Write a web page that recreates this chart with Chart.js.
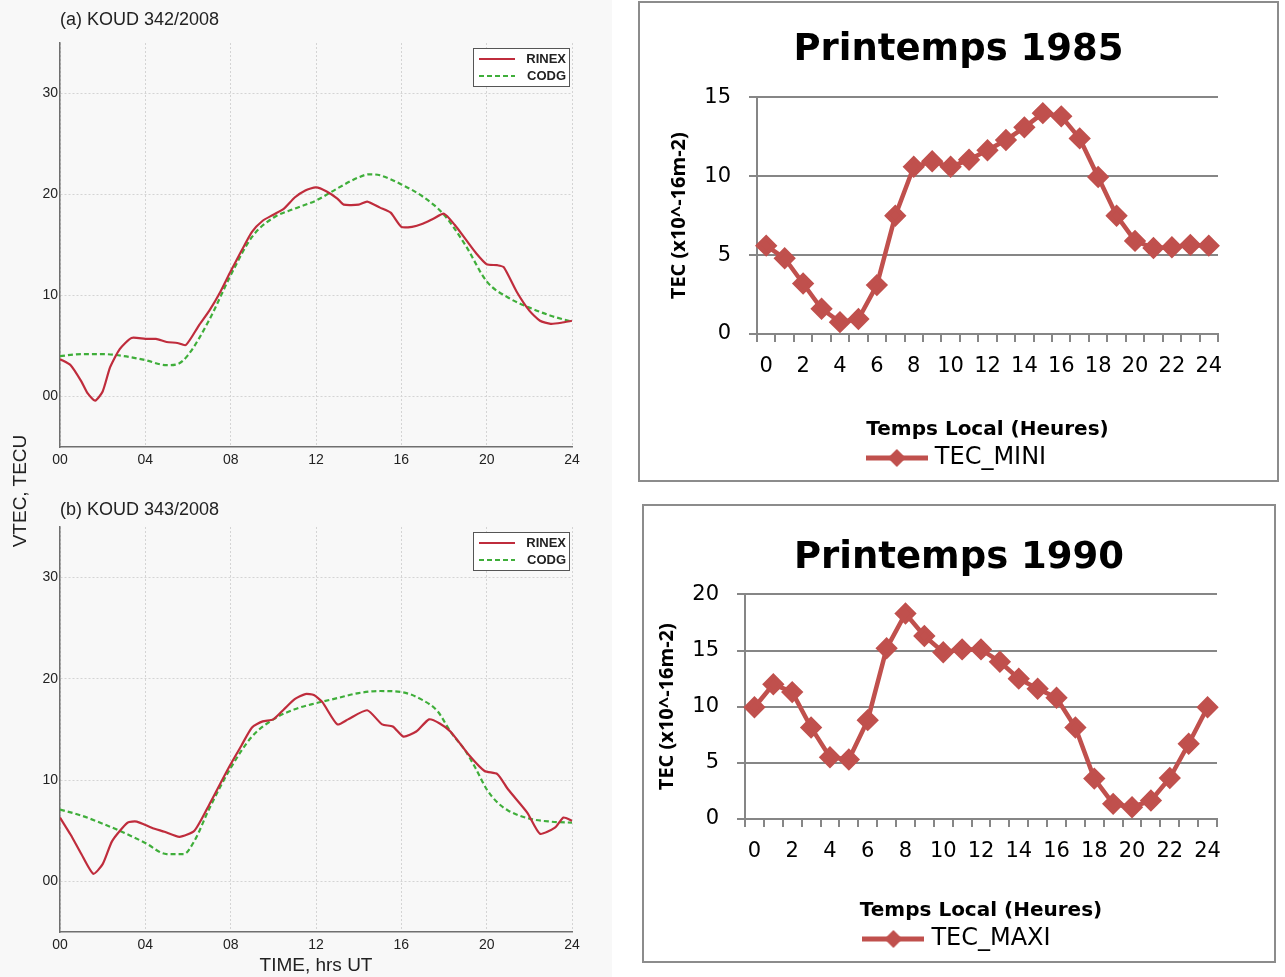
<!DOCTYPE html>
<html>
<head>
<meta charset="utf-8">
<script src="https://cdn.jsdelivr.net/npm/chart.js@4.4.0/dist/chart.umd.min.js"></script>
<style>
body{margin:0;background:#fff;width:1285px;height:977px;position:relative;overflow:hidden;font-family:"Liberation Sans",Arial,sans-serif}
.leftbg{position:absolute;left:0;top:0;width:612px;height:977px;background:#f8f8f8}
canvas{position:absolute}
.ptitle{position:absolute;font-size:18px;color:#222;white-space:nowrap}
.vlabel{position:absolute;left:-40px;top:480px;width:120px;text-align:center;font-size:19px;color:#222;transform:rotate(-90deg);white-space:nowrap}
.box{position:absolute;border:2px solid #8c8c8c;background:#fff}
.box canvas{left:0;top:0}
</style>
</head>
<body>
<div class="leftbg"></div>
<canvas id="panelA" width="600" height="470" style="left:0;top:0"></canvas>
<canvas id="panelB" width="600" height="493" style="left:0;top:484px"></canvas>
<div class="ptitle" style="left:60px;top:9px">(a) KOUD 342/2008</div>
<div class="ptitle" style="left:60px;top:499px">(b) KOUD 343/2008</div>
<div class="vlabel">VTEC, TECU</div>

<div class="box" style="left:638px;top:1px;width:637px;height:477px"><canvas id="spring85" width="637" height="477"></canvas></div>
<div class="box" style="left:642px;top:504px;width:630px;height:455px"><canvas id="spring90" width="630" height="455"></canvas></div>

<script>
// left panels, KOUD 342/2008
var hoursRinexA = [0,0.5,1,1.3,1.65,2,2.35,2.8,3.35,4,4.5,5,5.5,5.9,6.5,7,7.5,8,8.5,9,9.5,10,10.5,11,11.5,12,12.5,13,13.3,14,14.4,15,15.5,16,16.5,17,17.5,18,18.5,19,19.5,20,20.5,20.8,21.4,22,22.5,23,23.5,24]
var rinexA = [3.7,3.1,1.5,0.3,-0.4,0.5,2.9,4.7,5.8,5.7,5.7,5.4,5.3,5.1,7.0,8.5,10.3,12.4,14.4,16.3,17.4,18.0,18.6,19.7,20.4,20.7,20.3,19.6,19.0,19.0,19.3,18.7,18.2,16.8,16.8,17.1,17.6,18.1,17.0,15.6,14.2,13.1,13.0,12.8,10.4,8.5,7.5,7.2,7.3,7.5]
var hoursCodgA = [0,1,2,3,4,5,5.5,6,7,8,9,10,11,12,13,14,14.5,15,16,17,18,19,20,21,22,23,24]
var codgA = [4.0,4.2,4.2,4.0,3.6,3.1,3.2,4.1,7.6,12.0,15.8,17.7,18.6,19.4,20.6,21.7,22.0,21.9,21.0,19.8,18.0,15.0,11.4,9.8,8.8,8.0,7.4]

// KOUD 343/2008
var hoursRinexB = [0,0.5,1,1.56,2,2.45,3.17,3.6,4.3,4.9,5.6,6.3,7,7.9,8.5,9,9.5,10,10.5,11,11.5,11.9,12.3,13,13.5,14.4,15.1,15.6,16.1,16.7,17.3,17.8,18.3,19.2,19.9,20.5,21,21.9,22.5,23.2,23.6,24]
var rinexB = [6.3,4.6,2.7,0.75,1.7,4.0,5.8,5.9,5.3,4.9,4.4,5.0,7.6,11.2,13.4,15.2,15.8,16.0,17.0,18.0,18.5,18.4,17.7,15.5,16.0,16.9,15.5,15.3,14.3,14.8,16.0,15.6,14.8,12.4,10.9,10.6,9.1,6.8,4.7,5.3,6.3,6.0]
var hoursCodgB = [0,1,2,3,4,5,5.8,6.3,7,8,9,10,11,12,13,14,15,16,17,17.7,18.3,19,19.5,20,20.5,21,22,23,24]
var codgB = [7.1,6.5,5.7,4.8,3.8,2.7,2.7,4.0,7.2,11.2,14.3,16.0,17.0,17.6,18.1,18.6,18.8,18.7,17.9,16.8,14.8,12.9,11.1,9.1,7.8,7.0,6.2,5.9,5.8]

var leftXTicks = [0,4,8,12,16,20,24]
var leftYTicks = [0,10,20,30]

// right panels
var heures = ['0','1','2','3','4','5','6','7','8','9','10','11','12','13','14','15','16','17','18','19','20','21','22','23','24']
var tecMini = [5.6,4.8,3.2,1.6,0.75,0.95,3.1,7.5,10.6,10.95,10.6,11.05,11.65,12.3,13.1,14.0,13.8,12.4,9.95,7.5,5.9,5.45,5.5,5.65,5.6]
var tecMaxi = [9.95,12.0,11.3,8.15,5.5,5.3,8.8,15.2,18.3,16.3,14.85,15.1,15.1,14.0,12.5,11.6,10.8,8.15,3.6,1.35,1.05,1.65,3.65,6.7,9.95]

var RED = '#bf2c3c'
var GREEN = '#3fae3a'
var EXCEL_RED = '#c0504d'
var EXCEL_GREY = '#868686'

function pad2(v){ return (v < 10 ? '0' : '') + v }

function pts(xs, ys){
    return xs.map(function(x, i){ return {x: x, y: ys[i]} })
}

//legend drawn inside the plot, top right
var insideLegend = {
    id: 'insideLegend',
    afterDatasetsDraw: function(chart){
        var ctx = chart.ctx, a = chart.chartArea
        var x = a.right - 99, y = a.top + 5, w = 96, h = 38
        ctx.save()
        ctx.fillStyle = '#fff'
        ctx.fillRect(x, y, w, h)
        ctx.strokeStyle = '#555'
        ctx.lineWidth = 1
        ctx.strokeRect(x + 0.5, y + 0.5, w, h)
        chart.data.datasets.forEach(function(ds, i){
            var ly = y + 11 + i * 17
            ctx.strokeStyle = ds.borderColor
            ctx.lineWidth = 2
            ctx.setLineDash(ds.borderDash || [])
            ctx.beginPath()
            ctx.moveTo(x + 6, ly)
            ctx.lineTo(x + 42, ly)
            ctx.stroke()
            ctx.setLineDash([])
            ctx.fillStyle = '#222'
            ctx.font = 'bold 13px "Liberation Sans"'
            ctx.textBaseline = 'middle'
            ctx.textAlign = 'right'
            ctx.fillText(ds.label, x + w - 3, ly)
        })
        ctx.restore()
    }
}

function drawPanel(id, hr1, v1, hr2, v2, xTitle, xHeight){
    var tickFont = {family: '"Liberation Sans"', size: 14}
    new Chart(document.getElementById(id), {
        type: 'line',
        data: {
            datasets: [
                {label: 'RINEX', data: pts(hr1, v1), borderColor: RED, borderWidth: 2.2, pointRadius: 0, tension: 0.2},
                {label: 'CODG', data: pts(hr2, v2), borderColor: GREEN, borderWidth: 2.2, borderDash: [5, 3], pointRadius: 0, cubicInterpolationMode: 'monotone'}
            ]
        },
        options: {
            responsive: false,
            animation: false,
            layout: {padding: {top: 43, right: 28, left: 0, bottom: 0}},
            plugins: {legend: {display: false}, tooltip: {enabled: false}},
            scales: {
                x: {
                    type: 'linear', min: 0, max: 24,
                    afterBuildTicks: function(s){ s.ticks = leftXTicks.map(function(v){ return {value: v} }) },
                    afterFit: function(s){ s.height = xHeight },
                    ticks: {callback: pad2, font: tickFont, color: '#222', padding: 5, maxRotation: 0},
                    grid: {color: '#d4d4d4', lineWidth: 1, drawTicks: false},
                    border: {display: true, color: '#6f6f6f', width: 1.5, dash: [2, 2]},
                    title: {display: !!xTitle, text: xTitle, font: {family: '"Liberation Sans"', size: 19}, color: '#222', padding: 0}
                },
                y: {
                    min: -5, max: 35,
                    afterBuildTicks: function(s){ s.ticks = leftYTicks.map(function(v){ return {value: v} }) },
                    afterFit: function(s){ s.width = 60 },
                    ticks: {callback: pad2, font: tickFont, color: '#222', padding: 2},
                    grid: {color: '#d4d4d4', lineWidth: 1, drawTicks: false},
                    border: {display: true, color: '#6f6f6f', width: 1.5, dash: [2, 2]}
                }
            }
        },
        plugins: [insideLegend]
    })
}

function legendIcon(color){
    var c = document.createElement('canvas')
    c.width = 62
    c.height = 20
    var g = c.getContext('2d')
    g.strokeStyle = color
    g.lineWidth = 5
    g.beginPath(); g.moveTo(0, 10); g.lineTo(62, 10); g.stroke()
    g.fillStyle = color
    g.beginPath(); g.moveTo(31, 1); g.lineTo(40, 10); g.lineTo(31, 19); g.lineTo(22, 10); g.closePath(); g.fill()
    return c
}

function drawExcel(id, title, label, values, ymax, dims){
    var font = '"DejaVu Sans"'
    new Chart(document.getElementById(id), {
        type: 'line',
        data: {
            labels: heures,
            datasets: [{
                label: label, data: values,
                borderColor: EXCEL_RED, backgroundColor: EXCEL_RED, borderWidth: 4.5,
                pointStyle: 'rectRot', pointRadius: 8, pointBackgroundColor: EXCEL_RED, pointBorderColor: EXCEL_RED,
                tension: 0
            }]
        },
        options: {
            responsive: false,
            animation: false,
            layout: {padding: {top: 0, right: 0, left: 0, bottom: dims.bottom}},
            plugins: {
                tooltip: {enabled: false},
                title: {display: true, text: title, font: {family: font, size: 37, weight: 'bold'}, color: '#000',
                        padding: {top: dims.titleTop, bottom: dims.titleBottom}},
                legend: {
                    position: 'bottom',
                    labels: {usePointStyle: true, pointStyle: legendIcon(EXCEL_RED), pointStyleWidth: 52,
                             font: {family: font, size: 24}, color: '#000', padding: dims.legendPad}
                }
            },
            scales: {
                x: {
                    offset: true,
                    afterFit: function(s){ s.height = dims.xHeight },
                    ticks: {autoSkip: false, maxRotation: 0, padding: dims.tickPad, color: '#000', font: {family: font, size: 21},
                            callback: function(v, i){ return i % 2 === 0 ? heures[i] : '' }},
                    grid: {offset: true, drawOnChartArea: false, tickLength: 8, color: EXCEL_GREY, lineWidth: 2},
                    border: {display: true, color: EXCEL_GREY, width: 2},
                    title: {display: true, text: 'Temps Local (Heures)', color: '#000', padding: 0,
                            font: {family: font, size: 20, weight: 'bold'}}
                },
                y: {
                    min: 0, max: ymax,
                    afterFit: function(s){ s.width = dims.yWidth },
                    ticks: {stepSize: 5, padding: 18, color: '#000', font: {family: font, size: 21}},
                    grid: {color: EXCEL_GREY, lineWidth: 2, tickLength: 8},
                    border: {display: true, color: EXCEL_GREY, width: 2},
                    title: {display: true, text: 'TEC (x10^-16m-2)', color: '#000', padding: {top: dims.yTitlePad, bottom: 0},
                            font: {family: '"Open Sans"', size: 20, weight: 'bold'}}
                },
                // empty right margin so that title and legend stay centred on the whole box
                yRight: {
                    position: 'right', display: true,
                    afterFit: function(s){ s.width = dims.right },
                    ticks: {display: false}, grid: {display: false}, border: {display: false}
                }
            }
        }
    })
}

drawPanel('panelA', hoursRinexA, rinexA, hoursCodgA, codgA, '', 23)
drawPanel('panelB', hoursRinexB, rinexB, hoursCodgB, codgB, 'TIME, hrs UT', 45)

drawExcel('spring85', 'Printemps 1985', 'TEC_MINI', tecMini, 15,
    {right: 59, titleTop: 25, titleBottom: 25, xHeight: 108, tickPad: 12, yWidth: 117, yTitlePad: 27, legendPad: 4, bottom: 0})
drawExcel('spring90', 'Printemps 1990', 'TEC_MAXI', tecMaxi, 20,
    {right: 57, titleTop: 30, titleBottom: 14, xHeight: 104, tickPad: 12, yWidth: 101, yTitlePad: 11, legendPad: 4, bottom: 0})
</script>
</body>
</html>
